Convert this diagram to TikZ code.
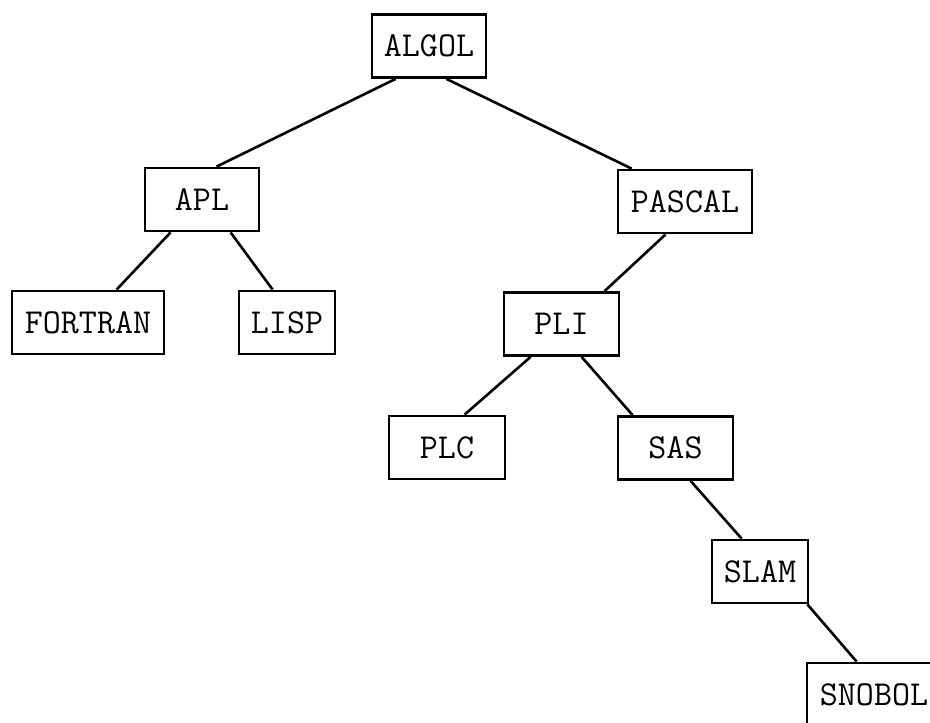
\documentclass[tikz,border=0pt]{standalone}
\usepackage{fontspec}
\tikzset{
  lang/.style={draw, line width=2.8pt, minimum height=63pt, inner xsep=10pt,
    font=\ttfamily\fontsize{35}{35}\selectfont},
  link/.style={line width=2.6pt}
}
\begin{document}
\begin{tikzpicture}[x=1pt, y=-1pt]
        \clip (0,0) rectangle (930,723);
        \fill[white] (0,0) rectangle (930,723);

        % Language boxes
        \foreach \n/\t/\x/\y/\w in {algol/ALGOL/429/46/114, apl/APL/202/199.5/114,
            pascal/PASCAL/685/201.5/134, fortran/FORTRAN/88/322.5/152,
            lisp/LISP/287/322.5/96, pli/PLI/561.5/324/115, plc/PLC/447/447.5/116,
            sas/SAS/675.5/448/115, slam/SLAM/760/571.5/96, snobol/SNOBOL/874/694.5/134} {
            \node[lang, minimum width=\w pt] (\n) at (\x, \y) {\t};
        }

        % Tree links
        \draw[link] ([xshift=25pt]algol.south west) -- ([xshift=73pt]apl.north west);
        \draw[link] ([xshift=-41pt]algol.south east) -- ([xshift=15pt]pascal.north west);
        \draw[link] ([xshift=27pt]apl.south west) -- ([xshift=106pt]fortran.north west);
        \draw[link] ([xshift=87pt]apl.south west) -- ([xshift=35pt]lisp.north west);
        \draw[link] ([xshift=49pt]pascal.south west) -- ([xshift=102pt]pli.north west);
        \draw[link] ([xshift=28pt]pli.south west) -- ([xshift=77pt]plc.north west);
        \draw[link] ([xshift=79pt]pli.south west) -- ([xshift=16pt]sas.north west);
        \draw[link] ([xshift=74pt]sas.south west) -- ([xshift=31pt]slam.north west);
        \draw[link] ([xshift=-2pt]slam.south east) -- ([xshift=51pt]snobol.north west);
    \end{tikzpicture}
\end{document}
